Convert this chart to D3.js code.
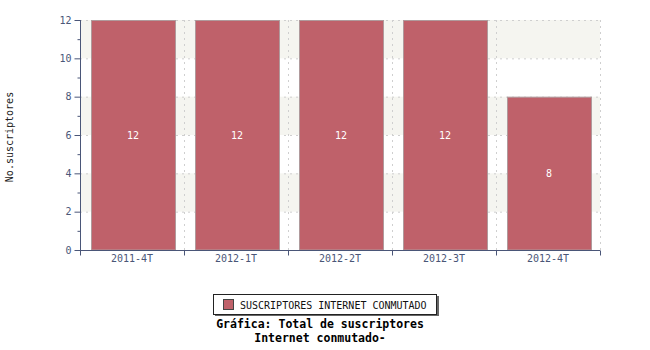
<!DOCTYPE html>
<html>
<head>
<meta charset="utf-8">
<script src="https://cdn.jsdelivr.net/npm/d3@7"></script>
<style>
  body { margin: 0; background: #fff; }
  svg { display: block; }
</style>
</head>
<body>
<div id="chart"></div>
<script>
const periods = ["2011-4T", "2012-1T", "2012-2T", "2012-3T", "2012-4T"];
const subscribers = [12, 12, 12, 12, 8];
const yTicks = [0, 2, 4, 6, 8, 10, 12];
const seriesName = "SUSCRIPTORES INTERNET CONMUTADO";
const titleLines = ["Gráfica: Total de suscriptores", "Internet conmutado-"];

const W = 650, H = 350;
const plotL = 80, plotR = 600, plotT = 20, plotB = 250;
const axisColor = "#4a5678";
const barColor = "#bf616a";
const mono = "'DejaVu Sans Mono', monospace";

const svg = d3.select("#chart").append("svg")
    .attr("width", W)
    .attr("height", H);

const x = d3.scaleBand()
    .domain(periods)
    .range([plotL, plotR])
    .paddingInner(0.19)
    .paddingOuter(0.095);

const y = d3.scaleLinear()
    .domain([0, 12])
    .range([plotB, plotT]);

// alternating bands
const bands = d3.pairs(yTicks).filter((d, i) => i % 2 === 1);
svg.selectAll("rect.band")
    .data(bands)
    .enter()
    .append("rect")
    .attr("x", plotL)
    .attr("y", d => y(d[1]))
    .attr("width", plotR - plotL)
    .attr("height", d => y(d[0]) - y(d[1]))
    .attr("fill", "#f5f5f0");

// horizontal grid
svg.selectAll("line.hgrid")
    .data(yTicks.slice(1))
    .enter()
    .append("line")
    .attr("x1", plotL)
    .attr("x2", plotR)
    .attr("y1", d => y(d) + 0.5)
    .attr("y2", d => y(d) + 0.5)
    .attr("stroke", "#cfcfcf")
    .attr("stroke-dasharray", "2,4");

// vertical grid at category boundaries
const step = x.step();
const bounds = periods.map((p, i) => plotL + step * (i + 1));
svg.selectAll("line.vgrid")
    .data(bounds)
    .enter()
    .append("line")
    .attr("x1", d => Math.round(d) + 0.5)
    .attr("x2", d => Math.round(d) + 0.5)
    .attr("y1", plotT)
    .attr("y2", plotB)
    .attr("stroke", "#cfcfcf")
    .attr("stroke-dasharray", "2,4");

// bars
svg.selectAll("rect.bar")
    .data(periods)
    .enter()
    .append("rect")
    .attr("x", d => Math.round(x(d)) + 1.5)
    .attr("y", (d, i) => y(subscribers[i]) + 0.5)
    .attr("width", Math.round(x.bandwidth()))
    .attr("height", (d, i) => plotB - y(subscribers[i]) - 0.5)
    .attr("fill", barColor)
    .attr("stroke", "#b09a9c")
    .attr("stroke-width", 1);

svg.selectAll("text.val")
    .data(periods)
    .enter()
    .append("text")
    .attr("x", d => x(d) + x.bandwidth() / 2 + 1)
    .attr("y", (d, i) => (y(subscribers[i]) + plotB) / 2 + 4)
    .attr("text-anchor", "middle")
    .attr("fill", "#fff")
    .style("font", `10px ${mono}`)
    .text((d, i) => subscribers[i]);

// y axis
const yAxis = d3.axisLeft(y)
    .tickValues(yTicks)
    .tickSize(6)
    .tickPadding(3)
    .tickFormat(d3.format("d"));
const gy = svg.append("g")
    .attr("transform", `translate(${plotL + 0.5},0)`)
    .call(yAxis);
// minor ticks
gy.selectAll("line.minor")
    .data(d3.range(1, 12, 2))
    .enter()
    .append("line")
    .attr("class", "minor")
    .attr("x1", -3)
    .attr("x2", 0)
    .attr("y1", d => y(d) + 0.5)
    .attr("y2", d => y(d) + 0.5);

// x axis
const xAxis = d3.axisBottom(x)
    .tickSize(0)
    .tickPadding(4);
const gx = svg.append("g")
    .attr("transform", `translate(0,${plotB + 0.5})`)
    .call(xAxis);
gx.selectAll("line.bound")
    .data([plotL].concat(bounds))
    .enter()
    .append("line")
    .attr("class", "bound")
    .attr("x1", d => Math.round(d) + 0.5)
    .attr("x2", d => Math.round(d) + 0.5)
    .attr("y1", 0)
    .attr("y2", 5);

[gx, gy].forEach(g => {
    g.select(".domain").attr("stroke", axisColor).attr("stroke-width", 1);
    g.selectAll("line").attr("stroke", axisColor);
    g.selectAll("text")
        .attr("fill", axisColor)
        .style("font", `10px ${mono}`);
});
gy.select(".domain").attr("d", `M0,${plotT}V${plotB}`);
gx.select(".domain").attr("d", `M${plotL},0H${plotR}`);

// y label
svg.append("text")
    .attr("transform", `translate(13,${(plotT + plotB) / 2 + 2}) rotate(-90)`)
    .attr("text-anchor", "middle")
    .attr("fill", "#222")
    .style("font", `10px ${mono}`)
    .text("No.suscriptores");

// legend
const lg = svg.append("g").attr("transform", "translate(213,294)");
lg.append("rect")
    .attr("x", 2).attr("y", 2)
    .attr("width", 224).attr("height", 20)
    .attr("fill", "#666");
lg.append("rect")
    .attr("x", 0.5).attr("y", 0.5)
    .attr("width", 223).attr("height", 20)
    .attr("fill", "#fff")
    .attr("stroke", "#222");
lg.append("rect")
    .attr("x", 10.5).attr("y", 5.5)
    .attr("width", 10).attr("height", 10)
    .attr("fill", barColor)
    .attr("stroke", "#444");
lg.append("text")
    .attr("x", 27).attr("y", 14.5)
    .attr("fill", "#111")
    .style("font", `10px ${mono}`)
    .text(seriesName);

// title
svg.selectAll("text.title")
    .data(titleLines)
    .enter()
    .append("text")
    .attr("x", 320)
    .attr("y", (d, i) => 328 + i * 14)
    .attr("text-anchor", "middle")
    .attr("fill", "#000")
    .style("font", `bold 11.5px ${mono}`)
    .text(d => d);
</script>
</body>
</html>
